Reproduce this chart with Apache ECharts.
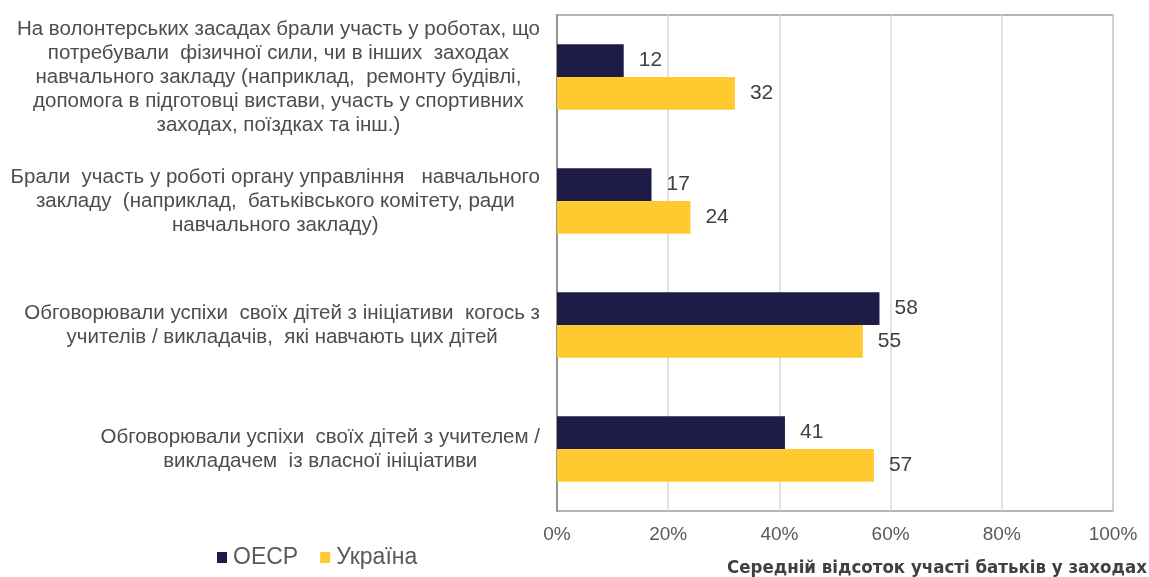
<!DOCTYPE html>
<html><head><meta charset="utf-8">
<script src="https://cdn.jsdelivr.net/npm/echarts@6/dist/echarts.min.js"></script>
<style>html,body{margin:0;padding:0;background:#fff}#c{width:1149px;height:577px}</style>
</head><body><div id="c"></div>
<script>
const categories = [
  'На волонтерських засадах брали участь у роботах, що\nпотребували  фізичної сили, чи в інших  заходах\nнавчального закладу (наприклад,  ремонту будівлі,\nдопомога в підготовці вистави, участь у спортивних\nзаходах, поїздках та інш.)',
  'Брали  участь у роботі органу управління   навчального\nзакладу  (наприклад,  батьківського комітету, ради\nнавчального закладу)',
  'Обговорювали успіхи  своїх дітей з ініціативи  когось з\nучителів / викладачів,  які навчають цих дітей',
  'Обговорювали успіхи  своїх дітей з учителем /\nвикладачем  із власної ініціативи'
];
const seriesNames = ['ОЕСР', 'Україна'];
const oecd = [12, 17, 58, 41];
const ukraine = [32, 24, 55, 57];
const xTicks = ['0%', '20%', '40%', '60%', '80%', '100%'];
const axisTitle = 'Середній відсоток участі батьків у заходах';

const chart = echarts.init(document.getElementById('c'));
const labelStyle = {show: true, position: 'right', distance: 15, color: '#404040', fontSize: 21, fontFamily: 'Liberation Sans'};
chart.setOption({
  animation: false,
  textStyle: {fontFamily: 'Liberation Sans'},
  grid: {left: 557, right: 36, top: 15, bottom: 66, show: true, borderColor: '#9a9a9a', borderWidth: 1.5},
  legend: {
    data: seriesNames, left: 212, top: 541, itemWidth: 10, itemHeight: 11, itemGap: 22,
    icon: 'rect', textStyle: {fontSize: 23, color: '#595959', fontFamily: 'Liberation Sans', padding: [0,0,0,1]}
  },
  xAxis: {
    type: 'value', min: 0, max: 100, interval: 20,
    axisLine: {show: false}, axisTick: {show: false},
    splitLine: {lineStyle: {color: '#d9d9d9', width: 1.5}},
    axisLabel: {formatter: (v) => xTicks[v / 20], color: '#595959', fontSize: 19, margin: 14}
  },
  yAxis: {
    type: 'category', inverse: true, data: categories,
    axisLine: {show: true, lineStyle: {color: '#808080', width: 1.5}}, axisTick: {show: false},
    axisLabel: {
      margin: 17, align: 'right', lineHeight: 24,
      formatter: (v) => v.split('\n').map(l => '{a|' + l + '}').join('\n'),
      rich: {a: {align: 'center', fontSize: 20.5, color: '#4d4d4d', lineHeight: 24, fontFamily: 'Liberation Sans'}}
    }
  },
  series: [
    {name: seriesNames[0], type: 'bar', data: oecd, barGap: '0%', barCategoryGap: '47%',
     itemStyle: {color: '#1e1b47'}, label: labelStyle},
    {name: seriesNames[1], type: 'bar', data: ukraine,
     itemStyle: {color: '#ffca30'}, label: labelStyle}
  ],
  graphic: [{type: 'text', left: 727, top: 559,
    style: {text: axisTitle, font: 'bold 18.5px "DejaVu Sans Condensed", "Liberation Sans Narrow", sans-serif', fill: '#404040'}}]
});
</script></body></html>
